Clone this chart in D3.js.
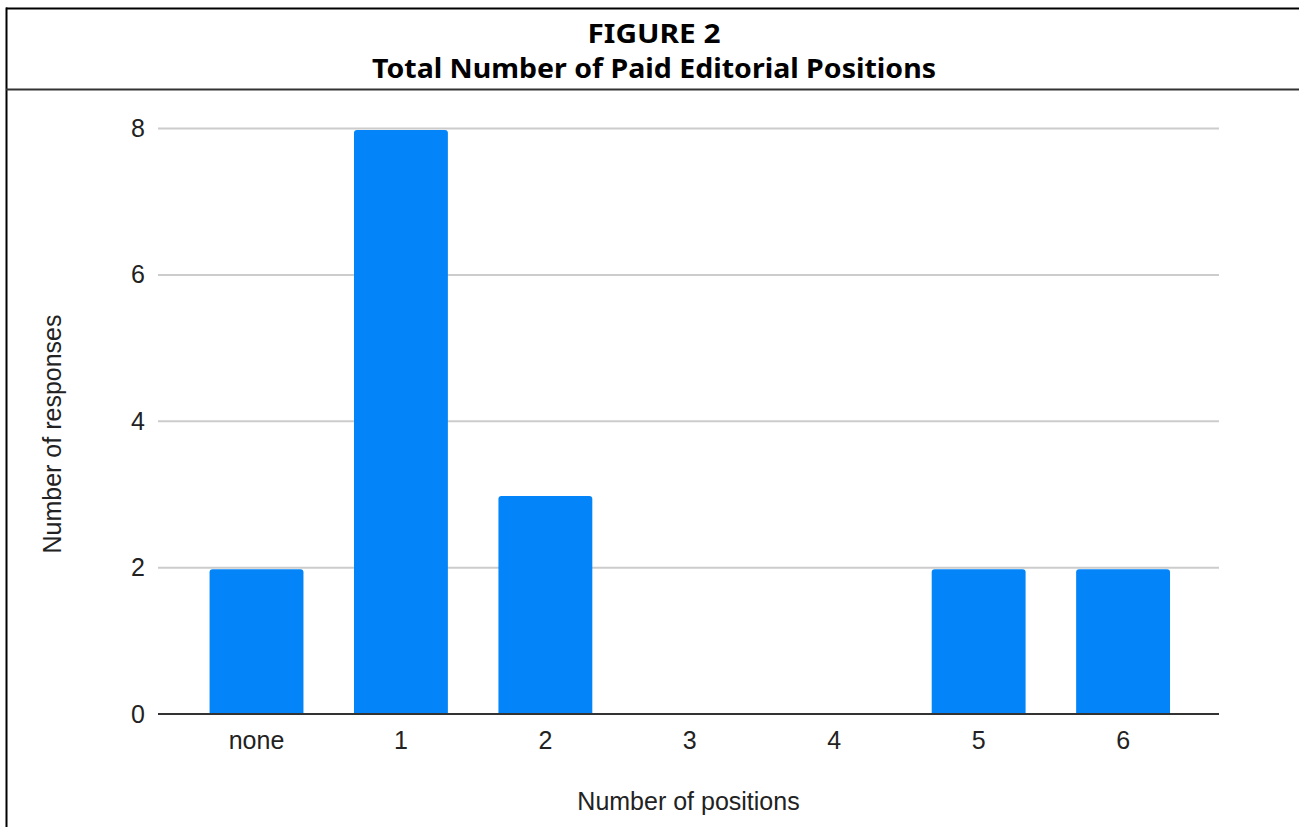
<!DOCTYPE html>
<html>
<head>
<meta charset="utf-8">
<script src="https://cdn.jsdelivr.net/npm/d3@7"></script>
<style>
  html, body { margin: 0; padding: 0; background: #fff; }
  svg { display: block; }
</style>
</head>
<body>
<svg id="chart" width="1299" height="827"></svg>
<script>
const categories = ["none", "1", "2", "3", "4", "5", "6"];
const responses = [2, 8, 3, 0, 0, 2, 2];
const yTicks = [0, 2, 4, 6, 8];
const titleLines = ["FIGURE 2", "Total Number of Paid Editorial Positions"];
const xAxisTitle = "Number of positions";
const yAxisTitle = "Number of responses";

const svg = d3.select("#chart");
const W = 1299, H = 827;

// Frame
svg.append("line").attr("x1", 6).attr("x2", W + 5).attr("y1", 8.5).attr("y2", 8.5)
  .attr("stroke", "#000").attr("stroke-width", 2);
svg.append("line").attr("x1", 6.5).attr("x2", 6.5).attr("y1", 7.5).attr("y2", H + 5)
  .attr("stroke", "#000").attr("stroke-width", 2);
svg.append("line").attr("x1", 6).attr("x2", W + 5).attr("y1", 89.5).attr("y2", 89.5)
  .attr("stroke", "#333").attr("stroke-width", 2);

// Title
const titleFont = "'Noto Sans', 'Open Sans', sans-serif";
svg.append("text").attr("x", 654).attr("y", 43)
  .attr("text-anchor", "middle").attr("font-family", titleFont)
  .attr("font-weight", 700).attr("font-size", 26)
  .attr("textLength", 133).attr("lengthAdjust", "spacingAndGlyphs")
  .attr("fill", "#000").text(titleLines[0]);
svg.append("text").attr("x", 654).attr("y", 77.5)
  .attr("text-anchor", "middle").attr("font-family", titleFont)
  .attr("font-weight", 700).attr("font-size", 26)
  .attr("textLength", 564).attr("lengthAdjust", "spacingAndGlyphs")
  .attr("fill", "#000").text(titleLines[1]);

// Scales
const plotLeft = 158, plotRight = 1219;
const y = d3.scaleLinear().domain([0, 8]).range([714, 128.5]);
const x = d3.scaleBand().domain(categories).range([184.3, 1195.3]).paddingInner(0.35).paddingOuter(0.175);

const axisFont = "'Liberation Sans', Arial, sans-serif";
const axisFontSize = 25;
const textColor = "#222";

// Gridlines
svg.append("g").selectAll("line").data(yTicks.filter(d => d !== 0)).join("line")
  .attr("x1", plotLeft).attr("x2", plotRight)
  .attr("y1", d => y(d)).attr("y2", d => y(d))
  .attr("stroke", "#cccccc").attr("stroke-width", 2);

// Y axis labels via d3 axis
const yAxis = svg.append("g").attr("transform", `translate(${plotLeft},0)`)
  .call(d3.axisLeft(y).tickValues(yTicks).tickSize(0).tickPadding(13).tickFormat(d3.format("d")));
yAxis.select(".domain").remove();
yAxis.selectAll("text").attr("font-family", axisFont).attr("font-size", axisFontSize).attr("fill", textColor);

// Bars with rounded top corners
function barPath(x0, w, yTop, yBot, r) {
  const h = yBot - yTop;
  if (h <= 0) return "";
  r = Math.min(r, h, w / 2);
  return `M${x0},${yBot} V${yTop + r} Q${x0},${yTop} ${x0 + r},${yTop} H${x0 + w - r} Q${x0 + w},${yTop} ${x0 + w},${yTop + r} V${yBot} Z`;
}
svg.append("g").selectAll("path").data(categories.map((c, i) => ({ c, v: responses[i] }))).join("path")
  .attr("d", d => barPath(x(d.c), x.bandwidth(), y(d.v) + 1.5, y(0), 3))
  .attr("fill", "#0384f8");

// Baseline
svg.append("line").attr("x1", plotLeft).attr("x2", plotRight)
  .attr("y1", y(0)).attr("y2", y(0))
  .attr("stroke", "#333").attr("stroke-width", 2);

// X axis labels
const xAxis = svg.append("g").attr("transform", `translate(0,${y(0)})`)
  .call(d3.axisBottom(x).tickSize(0).tickPadding(17));
xAxis.select(".domain").remove();
xAxis.selectAll("text").attr("font-family", axisFont).attr("font-size", axisFontSize).attr("fill", textColor);

// Axis titles
svg.append("text").attr("x", 688.5).attr("y", 810)
  .attr("text-anchor", "middle").attr("font-family", axisFont).attr("font-size", axisFontSize)
  .attr("fill", textColor).text(xAxisTitle);
svg.append("text").attr("transform", "translate(61,434) rotate(-90)")
  .attr("text-anchor", "middle").attr("font-family", axisFont).attr("font-size", axisFontSize)
  .attr("fill", textColor).text(yAxisTitle);
</script>
</body>
</html>
